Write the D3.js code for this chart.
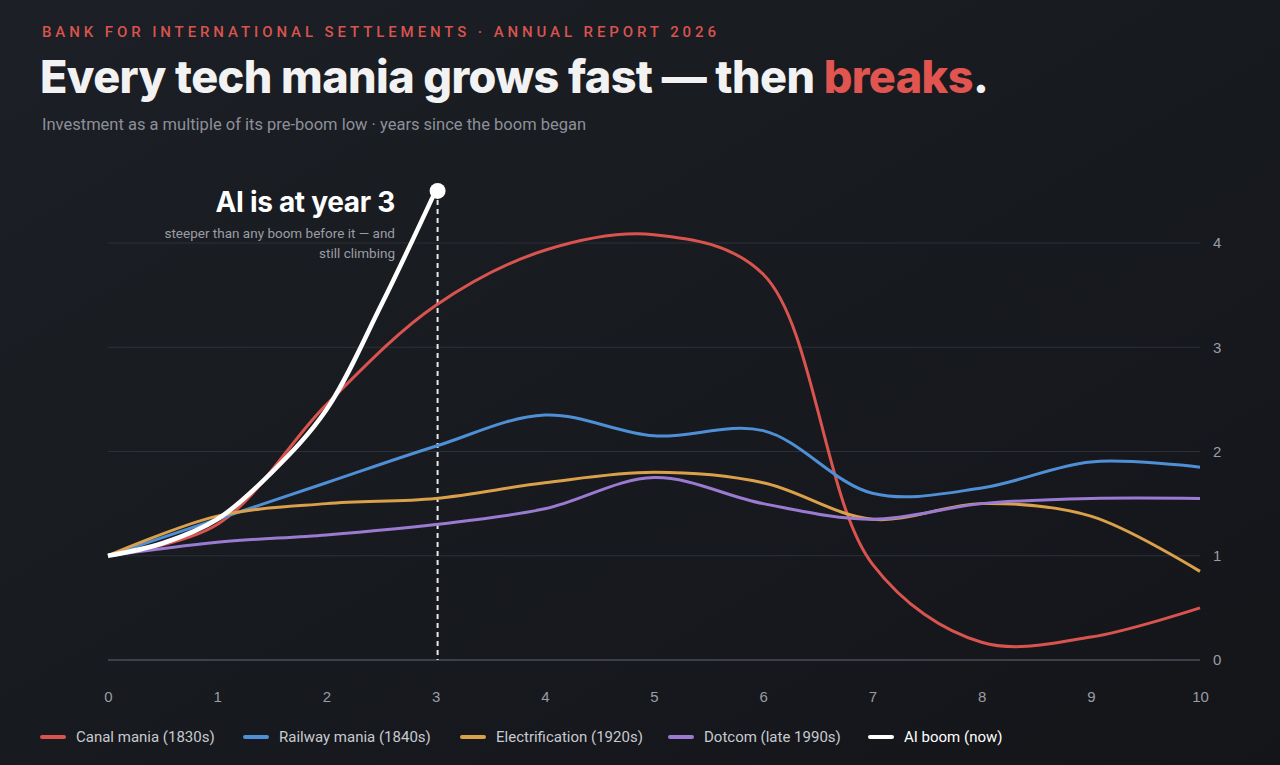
<!DOCTYPE html>
<html><head><meta charset="utf-8">
<script src="https://cdn.jsdelivr.net/npm/d3@7"></script>
<style>
body{margin:0;background:#15171c;}
svg{display:block;font-family:"Roboto","Liberation Sans",sans-serif;}
</style></head>
<body>
<script>
var years=[0,1,2,3,4,5,6,7,8,9,10];
var canal=[1,1.3,2.45,3.4,3.93,4.08,3.7,0.92,0.17,0.22,0.5];
var railway=[1,1.35,1.7,2.05,2.35,2.15,2.2,1.6,1.65,1.9,1.85];
var electrification=[1,1.38,1.5,1.55,1.7,1.8,1.7,1.35,1.5,1.38,0.85];
var dotcom=[1,1.13,1.2,1.3,1.45,1.75,1.5,1.35,1.5,1.55,1.55];
var aiYears=[0,0.5,1,1.5,2,2.5,3];
var aiBoom=[1,1.12,1.35,1.8,2.4,3.4,4.5];
var yTicks=[0,1,2,3,4];
var seriesNames=["Canal mania (1830s)","Railway mania (1840s)","Electrification (1920s)","Dotcom (late 1990s)","AI boom (now)"];
var seriesColors=["#d9534f","#4f8fd6","#dba04a","#9a7bd1","#ffffff"];

function main(){
  var w=1280,h=765;
  var svg=d3.select("body").append("svg").attr("width",w).attr("height",h);
  var defs=svg.append("defs");
  var g=defs.append("linearGradient").attr("id","bg").attr("x1",0).attr("y1",0).attr("x2",1).attr("y2",1);
  g.append("stop").attr("offset",0).attr("stop-color","#1c1f25");
  g.append("stop").attr("offset",1).attr("stop-color","#131519");
  svg.append("rect").attr("width",w).attr("height",h).attr("fill","url(#bg)");

  var x=d3.scaleLinear().domain([0,10]).range([108,1200]);
  var y=d3.scaleLinear().domain([0,4]).range([660,243]);

  svg.append("text").attr("x",42).attr("y",37).text("BANK FOR INTERNATIONAL SETTLEMENTS · ANNUAL REPORT 2026")
    .attr("fill","#d9534f").attr("font-size",15).attr("letter-spacing",3.9).attr("font-weight",500);
  var t=svg.append("text").attr("x",40).attr("y",93).attr("font-family","Inter, 'Open Sans', sans-serif")
    .attr("font-size",45).attr("font-weight",800).attr("letter-spacing",-0.6).attr("fill","#f2f2f2");
  t.append("tspan").text("Every tech mania grows fast — then ");
  t.append("tspan").attr("fill","#e0554f").text("breaks");
  t.append("tspan").text(".");
  svg.append("text").attr("x",42).attr("y",130).text("Investment as a multiple of its pre-boom low · years since the boom began")
    .attr("fill","#8d9099").attr("font-size",16.5);

  svg.append("g").selectAll("line").data(yTicks).join("line")
    .attr("x1",108).attr("x2",1200).attr("y1",d=>y(d)).attr("y2",d=>y(d))
    .attr("stroke",d=>d==0?"#4a4e58":"#2c3038").attr("stroke-width",d=>d==0?1.5:1);
  var ya=svg.append("g").attr("transform","translate(1210,0)").call(d3.axisRight(y).tickValues(yTicks).tickSize(0).tickFormat(d3.format("d")));
  ya.select(".domain").remove();
  ya.selectAll("text").attr("fill","#9a9da5").attr("font-size",15);
  var xa=svg.append("g").attr("transform","translate(0,688)").call(d3.axisBottom(x).tickValues(years).tickSize(0).tickFormat(d3.format("d")));
  xa.select(".domain").remove();
  xa.selectAll("text").attr("fill","#9a9da5").attr("font-size",15);

  svg.append("line").attr("x1",x(3)+2).attr("x2",x(3)+2).attr("y1",y(4.5)).attr("y2",y(0))
    .attr("stroke","#e8e8e8").attr("stroke-width",2).attr("stroke-dasharray","5,4");

  var line=d3.line().curve(d3.curveCatmullRom.alpha(0.5)).x(d=>x(d[0])).y(d=>y(d[1]));
  var hist=[canal,railway,electrification,dotcom];
  hist.forEach(function(s,i){
    svg.append("path").datum(years.map((yr,j)=>[yr,s[j]])).attr("d",line)
      .attr("fill","none").attr("stroke",seriesColors[i]).attr("stroke-width",3);
  });
  svg.append("path").datum(aiYears.map((yr,j)=>[yr,aiBoom[j]])).attr("d",line)
    .attr("fill","none").attr("stroke","#fff").attr("stroke-width",4.5);
  svg.append("circle").attr("cx",x(3)+2).attr("cy",y(aiBoom[aiBoom.length-1])).attr("r",8).attr("fill","#fff");

  svg.append("text").attr("x",395).attr("y",212).attr("text-anchor","end").text("AI is at year 3")
    .attr("fill","#fff").attr("font-size",28).attr("font-weight",700).attr("font-family","Inter, sans-serif").attr("letter-spacing",-0.3);
  svg.append("text").attr("x",395).attr("y",238).attr("text-anchor","end").text("steeper than any boom before it — and")
    .attr("fill","#9a9da5").attr("font-size",13.5);
  svg.append("text").attr("x",395).attr("y",258).attr("text-anchor","end").text("still climbing")
    .attr("fill","#9a9da5").attr("font-size",13.5);

  var lx=[42,245,462,670,870];
  var lg=svg.append("g").selectAll("g").data(seriesNames).join("g").attr("transform",(d,i)=>"translate("+lx[i]+",737)");
  lg.append("line").attr("x1",0).attr("x2",22).attr("stroke",(d,i)=>seriesColors[i]).attr("stroke-width",4).attr("stroke-linecap","round");
  lg.append("text").attr("x",34).attr("y",5).text(d=>d).attr("font-size",15)
    .attr("fill",(d,i)=>i==4?"#ffffff":"#c8cad0");
}
main();
</script>
</body></html>
